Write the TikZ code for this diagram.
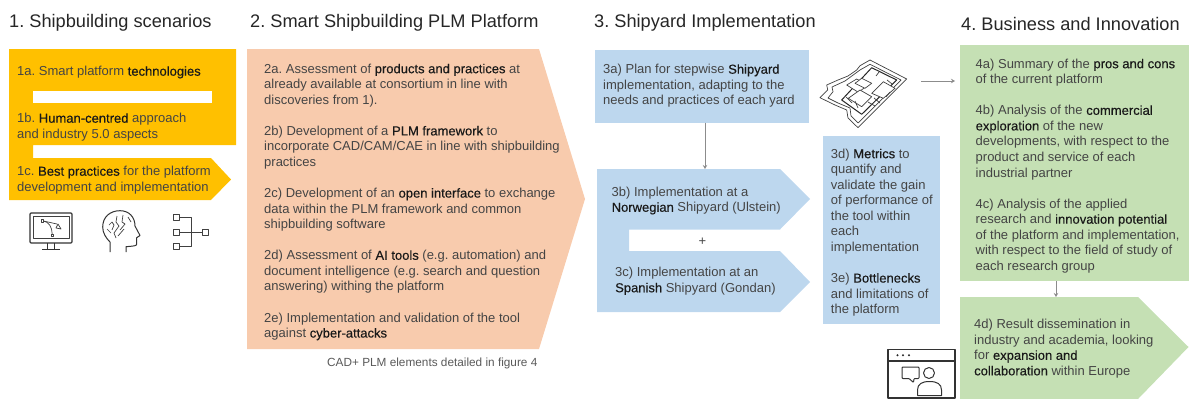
\documentclass[tikz,border=0pt]{standalone}
\usepackage{fontspec}
\setmainfont{Liberation Sans}[BoldFont={Liberation Sans},BoldFeatures={FakeBold=0.3}]
\usetikzlibrary{arrows.meta}
\definecolor{yel}{HTML}{FFC000}
\definecolor{ora}{HTML}{F8CBAD}
\definecolor{blu}{HTML}{BDD7EE}
\definecolor{gre}{HTML}{C5E0B4}
\definecolor{txt}{HTML}{444444}
\newcommand\bb[1]{{\bfseries\color{black!90}#1}}
\newcommand\st{\rule{0pt}{10pt}}
\frenchspacing
\tikzset{
  x=1pt,y=-1pt,
  head/.style={anchor=west,inner sep=0pt,font=\frenchspacing\fontsize{18.2}{22}\selectfont,text=black!85},
  body/.style={anchor=north west,inner sep=0pt,align=left,text=txt,font=\frenchspacing\fontsize{13}{15.55}\selectfont},
  boxy/.style={anchor=north west,inner sep=0pt,outer sep=0pt},
  conn/.style={draw=black!45,line width=0.9pt,-{Stealth[length=4pt,width=4.5pt]}},
  ico/.style={draw=black!80,line width=1pt,line join=round},
  thin ico/.style={draw=black!75,line width=0.7pt,line join=round},
}
\begin{document}
\begin{tikzpicture}
\useasboundingbox (0,0) rectangle (1189,399);
% titles
\node[head] (t1) at (9,23) {1. Shipbuilding scenarios};
\node[head] (t2) at (250,23) {2. Smart Shipbuilding PLM Platform};
\node[head] (t3) at (594,23) {3. Shipyard Implementation};
\node[head] (t4) at (961,24) {4. Business and Innovation};
% yellow
\fill[yel] (9,49) -- (236,49) -- (236,145) -- (33,145) -- (33,158) -- (211,158) -- (231,179.5) -- (211,200) -- (9,200) -- cycle;
\fill[white] (33,91) rectangle (212,103);
\node[body] (t1a) at (17,65.5) {\st 1a. Smart platform \bb{technologies}};
\node[body] (t1b) at (17,112.5) {\st 1b. \bb{Human-centred} approach\\and industry 5.0 aspects};
\node[body] (t1c) at (17,165.5) {\st 1c. \bb{Best practices} for the platform\\development and implementation};
% orange
\fill[ora] (247,49) -- (539,49) -- (585,199) -- (539,349) -- (247,349) -- cycle;
\node[body] (t2a) at (264,63) {\st 2a. Assessment of \bb{products and practices} at\\
already available at consortium in line with\\
discoveries from 1).\\[15.55pt]
2b) Development of a \bb{PLM framework} to\\
incorporate CAD/CAM/CAE in line with shipbuilding\\
practices\\[15.55pt]
2c) Development of an \bb{open interface} to exchange\\
data within the PLM framework and common\\
shipbuilding software\\[15.55pt]
2d) Assessment of \bb{AI tools} (e.g. automation) and\\
document intelligence (e.g. search and question\\
answering) withing the platform\\[15.55pt]
2e) Implementation and validation of the tool\\
against \bb{cyber-attacks}};
\node[body,font=\frenchspacing\fontsize{11.8}{14}\selectfont,text=black!65] (cap) at (327,356.5) {\st CAD+ PLM elements detailed in figure 4};
% blue
\node[boxy,fill=blu,minimum width=214pt,minimum height=73pt] (b3a) at (595,49.5) {};
\node[body] (t3a) at (603,63.5) {\st 3a) Plan for stepwise \bb{Shipyard}\\implementation, adapting to the\\needs and practices of each yard};
\fill[blu] (597,169) -- (780,169) -- (810,199) -- (780,229.5) -- (629,229.5) -- (629,251) -- (780,251) -- (810,282) -- (780,312) -- (597,312) -- cycle;
\coordinate (c3b) at (705,169);
\node[body] (t3b) at (611.5,186) {\st 3b) Implementation at a\\\bb{Norwegian} Shipyard (Ulstein)};
\node[body] (t3c) at (615,266.5) {\st 3c) Implementation at an\\\bb{Spanish} Shipyard (Gondan)};
\node[inner sep=0pt,text=txt,font=\fontsize{13}{14}\selectfont] (plus) at (702.5,241.3) {+};
\node[boxy,fill=blu,minimum width=117pt,minimum height=188.5pt] (b3d) at (823,135.5) {};
\node[body] (t3d) at (830.7,148) {\st 3d) \bb{Metrics} to\\quantify and\\validate the gain\\of performance of\\the tool within\\each\\implementation\\[15.55pt]
3e) \bb{Bottlenecks}\\and limitations of\\the platform};
% green
\node[boxy,fill=gre,minimum width=229pt,minimum height=236.5pt] (b4) at (960,44.5) {};
\node[body] (t4a) at (975.5,58) {\st 4a) Summary of the \bb{pros and cons}\\of the current platform\\[15.55pt]
4b) Analysis of the \bb{commercial}\\\bb{exploration} of the new\\developments, with respect to the\\product and service of each\\industrial partner\\[15.55pt]
4c) Analysis of the applied\\research and \bb{innovation potential}\\of the platform and implementation,\\with respect to the field of study of\\each research group};
\fill[gre] (960,297) -- (1138,297) -- (1188.5,347) -- (1138,399) -- (960,399) -- cycle;
\coordinate (c4d) at (1056,297);
\node[body] (t4d) at (974,318.5) {\st 4d) Result dissemination in\\industry and academia, looking\\for \bb{expansion and}\\\bb{collaboration} within Europe};
% connectors
\coordinate (shipout) at (921,81);
\draw[conn] (b3a.south -| c3b) -- (c3b);
\draw[conn,shorten >=5pt] (shipout) -- (shipout -| b4.west);
\draw[conn] (b4.south -| c4d) -- (c4d);
% monitor icon
\draw[ico,line width=1.1pt,rounded corners=1pt] (30,213) rectangle (72,243);
\draw[thin ico] (33,216) rectangle (69,238);
\draw[ico] (47,243) -- (47,249) (54,243) -- (54,249) (42,249) -- (60,249);
\draw[thin ico] (41,219.5) rectangle (43.5,222) (51,234) rectangle (53.5,236.5);
\draw[thin ico] (43.5,221) .. controls (49,222) and (52,227) .. (52.2,234);
\draw[thin ico] (43.5,221) -- (57,224);
\draw[thin ico] (58,224) -- (61,229) -- (56,228) -- cycle;
% brain icon
\draw[ico] (110,252) -- (110,242) .. controls (106,238) and (102.7,233) .. (102.7,227) .. controls (102.7,217) and (110,210.7) .. (120,210.7) .. controls (129,210.7) and (135,217) .. (135,226) -- (140,235.5) -- (136.7,237.7) -- (136.7,244) .. controls (136.7,246) and (134,246) .. (126,246.7) -- (126,252);
\draw[thin ico] (109,225) -- (112,222) -- (114,225) -- (112,230) (117,216) -- (116,222) -- (119,226) -- (114,233) -- (116,238) (123,215) -- (122,222) -- (125,224) -- (120,230) (128,217) -- (131,222) (107,229) -- (111,233) (124,229) -- (118,236);
% hierarchy icon
\draw[thin ico,line width=0.9pt] (173.5,214.5) rectangle (179.5,220.5) (173.5,229) rectangle (179.5,235) (173.5,243.5) rectangle (179.5,249.5) (202,229) rectangle (208,235);
\draw[thin ico,line width=0.9pt] (179.5,217.5) -- (191,217.5) -- (191,246.5) -- (179.5,246.5) (179.5,232) -- (202,232);
% shipyard icon
\draw[thin ico] (820,97.7) -- (827.7,90) -- (826.7,85) -- (838,80) -- (848,76) -- (856.7,70) -- (860,65.7) -- (870,60) -- (906.7,79) -- (858,127.7) -- (848,118) -- (846.7,110) -- (835,105) -- cycle;
\draw[thin ico] (828,98) -- (833,91.7) -- (832,87) -- (845,81) -- (860,70) -- (870,64.3) -- (901,80) -- (858,123) -- (851,116) -- (850,108) -- (838,103) -- cycle;
\draw[ico,draw=black!85] (871.7,67.7) -- (896.7,80) -- (861.7,114.3) -- (841.7,100) -- cycle;
\draw[thin ico,fill=white] (846.7,85) -- (856.7,79) -- (868.3,85) -- (858.3,92.3) -- cycle;
\draw[thin ico,fill=white] (855,83.3) -- (861.7,78.3) -- (871.7,83.3) -- (865,88.3) -- cycle;
\draw[thin ico,fill=white] (871.7,93.3) -- (883.3,81.7) -- (895,88.3) -- (883.3,98.3) -- cycle;
\draw[thin ico,fill=white] (848.3,98.3) -- (860,90) -- (871.7,96.7) -- (861.7,106.7) -- cycle;
\draw[thin ico] (846,97) -- (852,103) (858,108) -- (855,101) (868,102) -- (875,106) (874,98) -- (880,103) (886,97) -- (890,92) (892,84) -- (887,80) (879,72) -- (876,76);
% window icon
\draw[ico,line width=1.1pt] (888,398) -- (888,349.5) -- (955,349.5) -- (955,398) -- cycle;
\draw[ico,line width=1.1pt] (888,361) -- (955,361);
\fill[black!85] (897.5,355.3) circle (1.1) (903,355.3) circle (1.1) (909,355.3) circle (1.1);
\draw[ico,rounded corners=0.8pt] (902,367) -- (919,367) -- (919,378.5) -- (914,378.5) -- (913.5,382.5) -- (909,378.5) -- (902,378.5) -- cycle;
\draw[ico] (929,373) circle (5.5);
\draw[ico] (917.5,395.5) -- (917.5,390) .. controls (917.5,384) and (922,381.5) .. (929.5,381.5) .. controls (937,381.5) and (941.5,384) .. (941.5,390) -- (941.5,395.5) -- cycle;
\end{tikzpicture}
\end{document}
